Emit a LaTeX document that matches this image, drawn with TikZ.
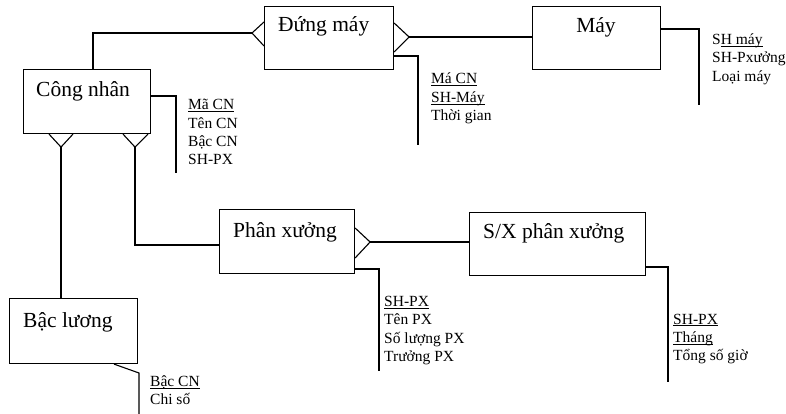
\documentclass[tikz,border=0pt]{standalone}
\usepackage{fontspec}
\setmainfont{Liberation Serif}
\usetikzlibrary{calc}

% underline drawn close to the baseline, through the descenders
\newcommand\attrul[1]{\sbox0{#1}\rlap{\rule[-2.2pt]{\wd0}{0.9pt}}\usebox0}

\tikzset{
  ln/.style={line width=1.1pt},
  entbox/.style={draw, line width=1.1pt, anchor=north west, inner sep=0pt},
  entlabel/.style={anchor=base west, inner sep=0pt, font=\fontsize{21.5}{24}\selectfont},
  attrs/.style={anchor=base west, inner sep=0pt, font=\fontsize{15.5}{18.3}\selectfont},
}

\begin{document}
\begin{tikzpicture}[x=1pt, y=-1pt]
\useasboundingbox (0,0) rectangle (786,414);

% entity boxes
\node[entbox, minimum width=127pt, minimum height=64pt] (cn)  at (23,69)  {};
\node[entbox, minimum width=129pt, minimum height=63pt] (dm)  at (264,6)  {};
\node[entbox, minimum width=128pt, minimum height=63pt] (may) at (532,6)  {};
\node[entbox, minimum width=128pt, minimum height=65pt] (bl)  at (9,298)  {};
\node[entbox, minimum width=135pt, minimum height=64pt] (px)  at (219,209) {};
\node[entbox, minimum width=176pt, minimum height=63pt] (sx)  at (469,212) {};

% entity names
\node[entlabel] (cnname)  at (36,97)   {Công nhân};
\node[entlabel] (dmname)  at (278,32)  {Đứng máy};
\node[entlabel, anchor=base] (mayname) at (596,33) {Máy};
\node[entlabel] (blname)  at (23,327)  {Bậc lương};
\node[entlabel] (pxname)  at (233,237) {Phân xưởng};
\node[entlabel] (sxname)  at (483,238) {S/X phân xưởng};

% Công nhân -- Đứng máy (many end at Đứng máy)
\coordinate (f1) at ($(dm.north west)+(-12,27)$);
\draw[ln] ($(cn.north west)+(70,0)$) |- (f1);
\draw[ln] ($(dm.north west)+(0,16)$) -- (f1) -- ($(dm.north west)+(0,40)$);

% Đứng máy -- Máy
\coordinate (f2) at ($(dm.north east)+(15,31)$);
\draw[ln] ($(dm.north east)+(0,17)$) -- (f2) -- ($(dm.north east)+(0,46)$);
\draw[ln] (f2) -- (f2 -| may.west);

% Công nhân -- Bậc lương
\coordinate (f3) at ($(cn.south west)+(38,13)$);
\draw[ln] ($(cn.south west)+(26,0)$) -- (f3) -- ($(cn.south west)+(50,0)$);
\draw[ln] (f3) -- (f3 |- bl.north);

% Công nhân -- Phân xưởng
\coordinate (f4) at ($(cn.south west)+(112,13)$);
\draw[ln] ($(cn.south west)+(100,0)$) -- (f4) -- ($(cn.south west)+(125,0)$);
\coordinate (pxin) at ($(px.north west)+(0,36)$);
\draw[ln] (f4) |- (pxin);

% Phân xưởng -- S/X phân xưởng
\coordinate (f5) at ($(px.north east)+(15,33)$);
\draw[ln] ($(px.north east)+(0,19)$) -- (f5) -- ($(px.north east)+(0,49)$);
\draw[ln] (f5) -- (f5 -| sx.west);

% attribute brackets
\coordinate (cnA)  at (176,173);
\coordinate (dmA)  at (418,145);
\coordinate (mayA) at (699,105);
\coordinate (blK)  at (139,373);
\coordinate (blA)  at (139,414);
\coordinate (pxA)  at (379,371);
\coordinate (sxA)  at (668,382);
\draw[ln] ($(cn.north east)+(0,27)$)  -| (cnA);
\draw[ln] ($(dm.north east)+(0,50)$)  -| (dmA);
\draw[ln] ($(may.north east)+(0,23)$) -| (mayA);
\draw[ln] ($(bl.south west)+(105,0)$) -- (blK) -- (blA);
\draw[ln] ($(px.north east)+(0,60)$)  -| (pxA);
\draw[ln] ($(sx.north east)+(0,55)$)  -| (sxA);

% attribute lists
\node[attrs] (cnattr) at (188,110)
  {\begin{tabular}[t]{@{}l@{}}\attrul{Mã CN}\\ Tên CN\\ Bậc CN\\ SH-PX\end{tabular}};
\node[attrs] (dmattr) at (431,84)
  {\begin{tabular}[t]{@{}l@{}}\attrul{Má CN}\\ \attrul{SH-Máy}\\ Thời gian\end{tabular}};
\node[attrs] (mayattr) at (712,44.5)
  {\begin{tabular}[t]{@{}l@{}}S\attrul{H máy}\\ SH-Pxưởng\\ Loại máy\end{tabular}};
\node[attrs] (blattr) at (150,386.5)
  {\begin{tabular}[t]{@{}l@{}}\attrul{Bậc CN}\\ Chi số\end{tabular}};
\node[attrs] (pxattr) at (384,306.5)
  {\begin{tabular}[t]{@{}l@{}}\attrul{SH-PX}\\ Tên PX\\ Số lượng PX\\ Trưởng PX\end{tabular}};
\node[attrs] (sxattr) at (673,324)
  {\begin{tabular}[t]{@{}l@{}}\attrul{SH-PX}\\ \attrul{Tháng}\\ Tổng số giờ\end{tabular}};
\end{tikzpicture}
\end{document}
